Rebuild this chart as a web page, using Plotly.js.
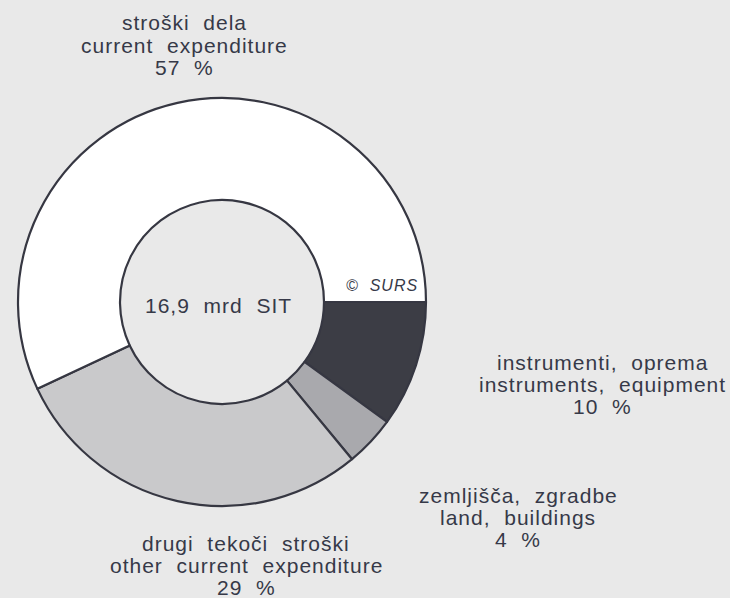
<!DOCTYPE html>
<html>
<head>
<meta charset="utf-8">
<script src="https://cdn.plot.ly/plotly-3.0.1.min.js"></script>
<style>
html,body{margin:0;padding:0;background:#e9e9e9;}
#chart{width:730px;height:598px;}
.annotation-text{letter-spacing:1px;}
</style>
</head>
<body>
<div id="chart"></div>
<script>
// Data (slice order: clockwise from 3 o'clock)
var labelsSl = ['instrumenti, oprema', 'zemljišča, zgradbe', 'drugi tekoči stroški', 'stroški dela'];
var labelsEn = ['instruments, equipment', 'land, buildings', 'other current expenditure', 'current expenditure'];
var values = [10, 4, 29, 57];
var centerText = '16,9 mrd SIT';
var sourceText = '© SURS';

var colors = ['#3c3d45', '#a9a9ad', '#c9c9cb', '#ffffff'];

var W = 730, H = 598;
function px(x){ return x / W; }
function py(y){ return 1 - y / H; }
function wide(s){ return s.replace(/ /g, '\u00a0 '); }

// label placement (pixel centres of first line) per slice
var labelPos = [
  {x: 602, y: 362},
  {x: 518, y: 495},
  {x: 246, y: 543},
  {x: 184, y: 23}
];
var lineGap = 22;
var txtFont = {family: '"Liberation Sans", Arial, sans-serif', size: 21, color: '#363948'};

var annotations = [];
for (var i = 0; i < values.length; i++) {
  var lines = [labelsSl[i], labelsEn[i], values[i] + ' %'];
  for (var j = 0; j < lines.length; j++) {
    annotations.push({
      xref: 'paper', yref: 'paper',
      x: px(labelPos[i].x), y: py(labelPos[i].y + j * lineGap),
      xanchor: 'center', yanchor: 'middle',
      text: wide(lines[j]), showarrow: false, font: txtFont
    });
  }
}
annotations.push({
  xref: 'paper', yref: 'paper', x: px(218), y: py(305),
  xanchor: 'center', yanchor: 'middle', showarrow: false,
  text: wide(centerText), font: txtFont
});
annotations.push({
  xref: 'paper', yref: 'paper', x: px(382), y: py(285),
  xanchor: 'center', yanchor: 'middle', showarrow: false,
  text: '<i>' + wide(sourceText) + '</i>',
  font: {family: '"Liberation Sans", Arial, sans-serif', size: 16, color: '#363948'}
});

var cx = 222, cy = 302, r = 204;
var trace = {
  type: 'pie',
  values: values,
  labels: labelsEn,
  sort: false,
  direction: 'clockwise',
  rotation: 90,
  hole: 0.5,
  textinfo: 'none',
  hoverinfo: 'label+percent',
  marker: {colors: colors, line: {color: '#363742', width: 2.2}},
  domain: {x: [px(cx - r), px(cx + r)], y: [py(cy + r), py(cy - r)]},
  showlegend: false
};

var layout = {
  width: W, height: H,
  margin: {l: 0, r: 0, t: 0, b: 0},
  paper_bgcolor: '#e9e9e9',
  plot_bgcolor: '#e9e9e9',
  showlegend: false,
  annotations: annotations
};

Plotly.newPlot('chart', [trace], layout, {displayModeBar: false, staticPlot: true});
</script>
</body>
</html>
